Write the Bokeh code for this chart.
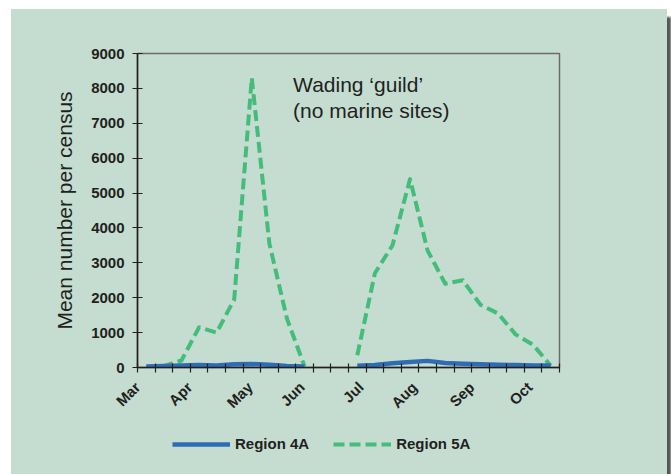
import math
from bokeh.plotting import figure
from bokeh.layouts import column
from bokeh.models import FixedTicker, Legend, LegendItem, Label, ColumnDataSource
from bokeh.embed import file_html
from bokeh.resources import INLINE

NAN = float("nan")

# census periods (three per month, March to October); periods 10-11 have no data
periods = list(range(24))
region_4a = [30, 40, 60, 70, 60, 90, 100, 80, 40, 30, NAN, NAN,
             50, 70, 120, 160, 190, 130, 110, 90, 80, 70, 60, 60]
region_5a = [0, 40, 200, 1150, 1000, 1950, 8300, 3550, 1400, 30, NAN, NAN,
             350, 2700, 3500, 5400, 3350, 2400, 2500, 1800, 1550, 950, 650, 50]
series_names = ["Region 4A", "Region 5A"]

month_labels = ["Mar", "Apr", "May", "Jun", "Jul", "Aug", "Sep", "Oct"]
month_label_pos = [0.0, 2.95, 6.4, 9.35, 12.7, 15.75, 19.0, 22.3]
y_ticks = [0, 1000, 2000, 3000, 4000, 5000, 6000, 7000, 8000, 9000]

BG = "#c4ddd0"
INK = "#231f20"
FONT = "Liberation Sans"
BLUE = "#2e6db4"
GREEN = "#44bd7a"

x_mid = [p_ + 0.5 for p_ in periods]
src = ColumnDataSource(dict(x=x_mid, a4=region_4a, a5=region_5a))

p = figure(width=656, height=411, x_range=(0, 24), y_range=(0, 9000),
           output_backend="svg", toolbar_location=None, title=None,
           min_border_left=126, min_border_right=108,
           min_border_top=44, min_border_bottom=49)
p.background_fill_color = BG
p.border_fill_color = BG
p.outline_line_color = "#6b6b6b"
p.outline_line_width = 1.5
p.xgrid.visible = False
p.ygrid.visible = False

# x axis
xa = p.xaxis[0]
xa.ticker = FixedTicker(ticks=month_label_pos, minor_ticks=[float(i) for i in range(25)])
xa.major_label_overrides = {pos: lab for pos, lab in zip(month_label_pos, month_labels)}
xa.major_tick_in = 0
xa.major_tick_out = 0
xa.minor_tick_in = 4
xa.minor_tick_out = 5
xa.minor_tick_line_color = INK
xa.minor_tick_line_width = 1.2
xa.axis_line_color = INK
xa.axis_line_width = 1.5
xa.major_label_orientation = math.pi / 4
xa.major_label_standoff = 12
xa.major_label_text_font = FONT
xa.major_label_text_font_style = "bold"
xa.major_label_text_font_size = "15px"
xa.major_label_text_color = INK

# y axis
ya = p.yaxis[0]
ya.ticker = FixedTicker(ticks=y_ticks, minor_ticks=[])
ya.major_tick_in = 5
ya.major_tick_out = 5
ya.major_tick_line_color = INK
ya.major_tick_line_width = 1.2
ya.minor_tick_line_color = None
ya.axis_line_color = INK
ya.axis_line_width = 1.5
ya.major_label_standoff = 8
ya.major_label_text_font = FONT
ya.major_label_text_font_style = "bold"
ya.major_label_text_font_size = "15px"
ya.major_label_text_color = INK
ya.axis_label = "Mean number per census"
ya.axis_label_text_font = FONT
ya.axis_label_text_font_style = "normal"
ya.axis_label_text_font_size = "21px"
ya.axis_label_text_color = INK
ya.axis_label_standoff = 12

line_styles = [dict(line_color=BLUE, line_width=4.5, line_join="round"),
               dict(line_color=GREEN, line_width=4, line_dash="11 5", line_join="round")]
value_cols = ["a4", "a5"]

p.line("x", "a5", source=src, **line_styles[1])
p.line("x", "a4", source=src, **line_styles[0])

for txt, yv in [("Wading \u2018guild\u2019", 8105), ("(no marine sites)", 7370)]:
    p.add_layout(Label(x=8.85, y=yv, text=txt, text_font=FONT, text_font_size="21px",
                       text_color=INK, text_baseline="alphabetic", text_align="left"))

# legend strip below the chart (same series, drawn out of its view so only the key shows)
p2 = figure(width=656, height=54, x_range=(0, 24), y_range=(-2, -1),
            output_backend="svg", toolbar_location=None, title=None,
            min_border=0, x_axis_type=None, y_axis_type=None)
p2.background_fill_alpha = 0
p2.border_fill_color = BG
p2.outline_line_color = None
p2.xgrid.visible = False
p2.ygrid.visible = False
legend_renderers = [p2.line("x", col, source=src, **st)
                    for col, st in zip(value_cols, line_styles)]
legend = Legend(items=[LegendItem(label=n, renderers=[r])
                       for n, r in zip(series_names, legend_renderers)],
                orientation="horizontal", location=(35, 22),
                glyph_width=58, glyph_height=16, label_standoff=5, spacing=24,
                padding=0, margin=0, border_line_alpha=0, background_fill_alpha=0,
                label_text_font=FONT, label_text_font_style="bold",
                label_text_font_size="15px", label_text_color=INK)
p2.add_layout(legend)

layout = column(p, p2, spacing=0)
layout.styles = {"margin-left": "11px", "margin-top": "9px",
                 "background-color": BG,
                 "box-shadow": "4px 8px 2px #555"}

open("out.html", "w").write(file_html(layout, INLINE))
